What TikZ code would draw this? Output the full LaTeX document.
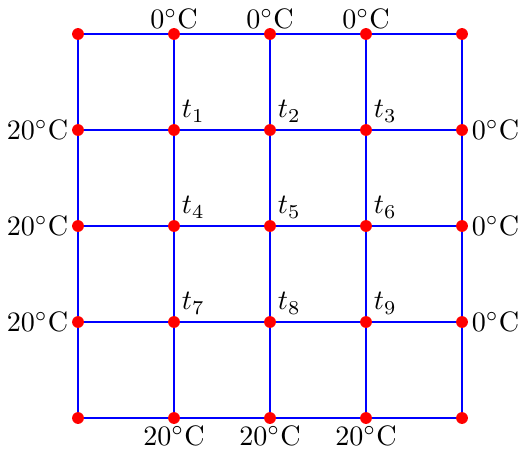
\documentclass[tikz,border=0pt]{standalone}
\usepackage{tikz}
\usetikzlibrary{positioning}

\begin{document}
\begin{tikzpicture}[
  pt/.style={circle, fill=red, inner sep=0pt, minimum size=4.2pt},
  gridline/.style={blue, line width=0.7pt},
  temp/.style={inner sep=1pt}
]
\useasboundingbox (-0.975,-0.4) rectangle (5.5,5.225);

% grid points
\foreach \i in {0,...,4}
  \foreach \j in {0,...,4}
    \coordinate (p-\i-\j) at (1.2*\i,1.2*\j);

% grid lines
\foreach \k in {0,...,4} {
  \draw[gridline] (p-0-\k) -- (p-4-\k);
  \draw[gridline] (p-\k-0) -- (p-\k-4);
}

% dots
\foreach \i in {0,...,4}
  \foreach \j in {0,...,4}
    \node[pt] (n-\i-\j) at (p-\i-\j) {};

% boundary temperatures
\foreach \i in {1,2,3} {
  \node[temp, above=-1.5pt of n-\i-4] {$0^\circ\mathrm{C}$};
  \node[temp, below=-0.5pt of n-\i-0] {$20^\circ\mathrm{C}$};
  \node[temp, left=0pt of n-0-\i] {$20^\circ\mathrm{C}$};
  \node[temp, right=0pt of n-4-\i] {$0^\circ\mathrm{C}$};
}

% unknowns
\node[temp, above right=0pt and 0pt of n-1-3] {$t_1$};
\node[temp, above right=0pt and 0pt of n-2-3] {$t_2$};
\node[temp, above right=0pt and 0pt of n-3-3] {$t_3$};
\node[temp, above right=0pt and 0pt of n-1-2] {$t_4$};
\node[temp, above right=0pt and 0pt of n-2-2] {$t_5$};
\node[temp, above right=0pt and 0pt of n-3-2] {$t_6$};
\node[temp, above right=0pt and 0pt of n-1-1] {$t_7$};
\node[temp, above right=0pt and 0pt of n-2-1] {$t_8$};
\node[temp, above right=0pt and 0pt of n-3-1] {$t_9$};
\end{tikzpicture}
\end{document}
